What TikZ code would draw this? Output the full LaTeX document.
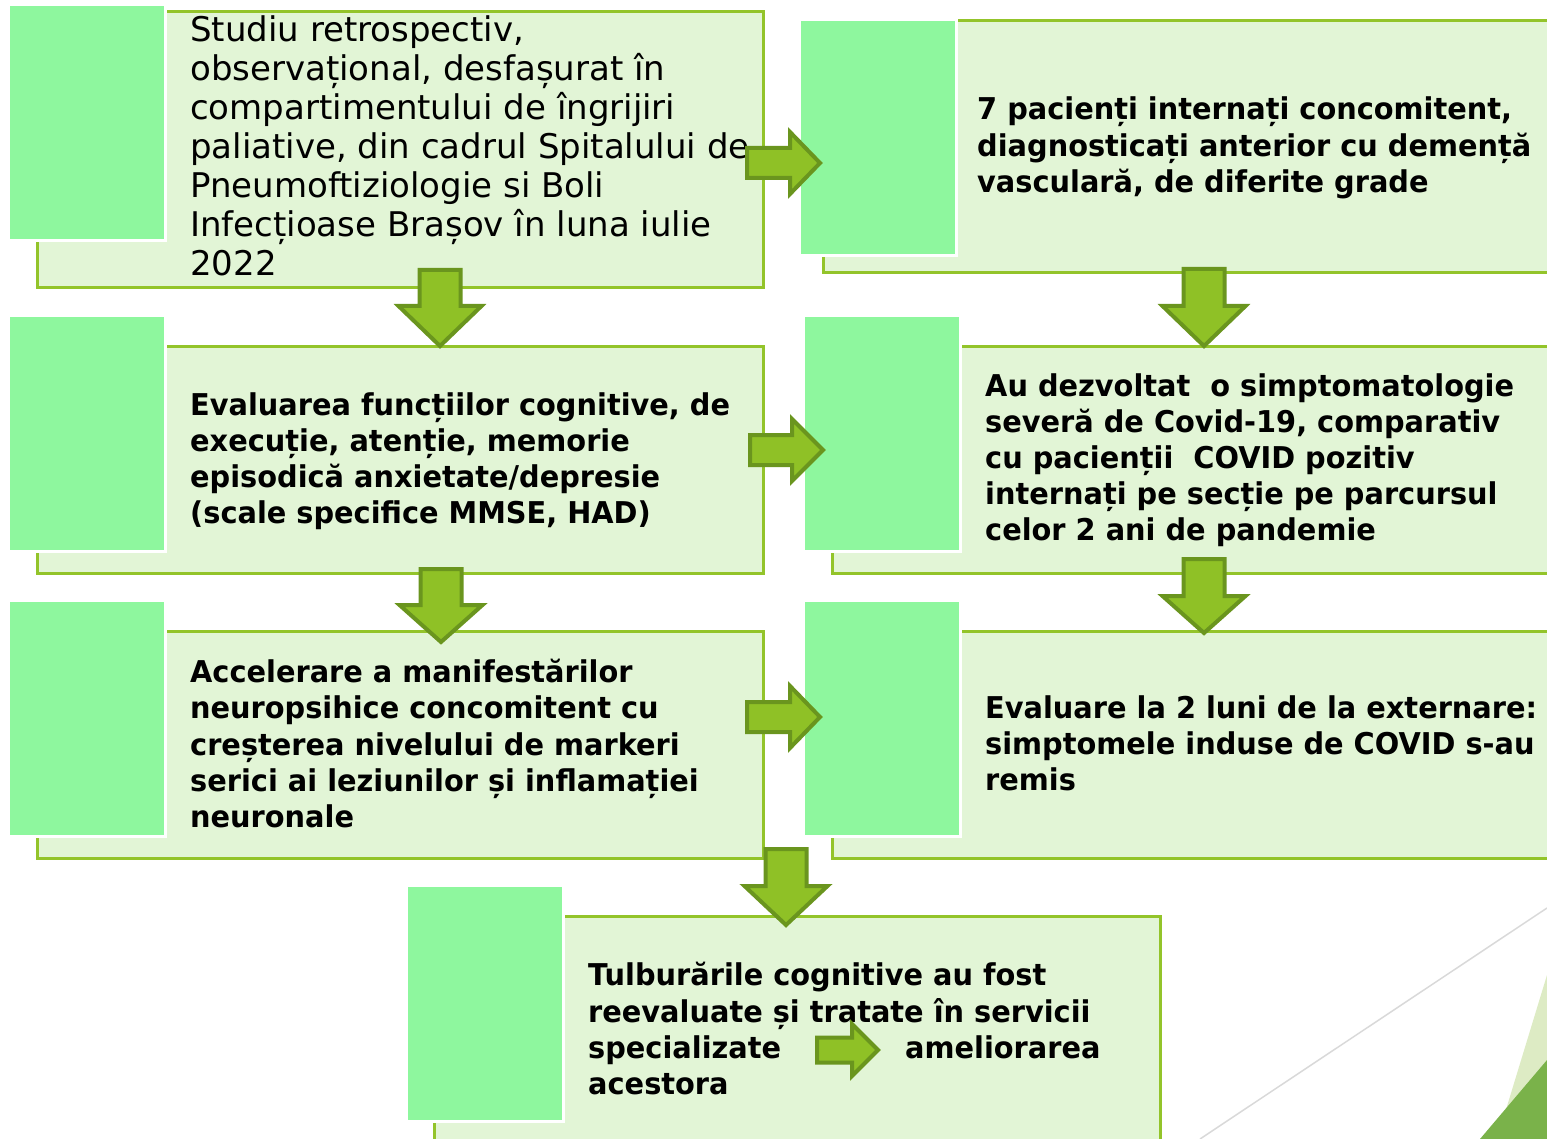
\documentclass[tikz,border=0pt]{standalone}
\usepackage{fontspec}
\newfontfamily\regf[FakeStretch=1.0]{DejaVu Sans}
\newfontfamily\bldf[FakeStretch=0.96]{DejaVu Sans}
\definecolor{sqfill}{HTML}{8EF79E}
\definecolor{boxfill}{HTML}{E2F5D6}
\definecolor{boxline}{HTML}{93C42A}
\definecolor{arrfill}{HTML}{8FC126}
\definecolor{arrline}{HTML}{6A951E}
\definecolor{decoline}{HTML}{D9D9D9}
\definecolor{decolight}{HTML}{DDEBC4}
\definecolor{decodark}{HTML}{7AB24A}
\tikzset{
  lightbox/.style={fill=boxfill,draw=boxline,line width=3pt},
  sqbox/.style={fill=sqfill,draw=white,line width=3pt},
  blockarr/.style={fill=arrfill,draw=arrline,line width=4pt,line join=miter},
  reg/.style={anchor=base west,inner sep=0pt,font=\regf\fontsize{34}{39}\selectfont},
  bld/.style={anchor=base west,inner sep=0pt,font=\bldf\bfseries\fontsize{30}{36}\selectfont},
}
% right arrow: x0, xs, xt, yc, half shaft, half head
\newcommand{\rarr}[6]{\draw[blockarr] (#1,#4-#5) -- (#2,#4-#5) -- (#2,#4-#6) -- (#3,#4) -- (#2,#4+#6) -- (#2,#4+#5) -- (#1,#4+#5) -- cycle;}
% down arrow: xc, y0, ys, yt, half shaft, half head
\newcommand{\darr}[6]{\draw[blockarr] (#1-#5,#2) -- (#1+#5,#2) -- (#1+#5,#3) -- (#1+#6,#3) -- (#1,#4) -- (#1-#6,#3) -- (#1-#5,#3) -- cycle;}
\begin{document}
\begin{tikzpicture}[x=1pt,y=-1pt]
\useasboundingbox (0,0) rectangle (1547,1139);
\clip (0,0) rectangle (1547,1139);
% decoration
\fill[decolight] (1547,975) -- (1497,1139) -- (1547,1139) -- cycle;
\fill[decodark] (1547,1060) -- (1480,1139) -- (1547,1139) -- cycle;
\draw[decoline,line width=1.5pt] (1547,908) -- (1200,1139);
% boxes
\node[lightbox,anchor=north west,minimum width=726pt,minimum height=276pt] (b1) at (36,10) {};
\node[lightbox,anchor=north west,minimum width=740pt,minimum height=252pt] (b2) at (822,19) {};
\node[lightbox,anchor=north west,minimum width=726pt,minimum height=227pt] (b3) at (36,345) {};
\node[lightbox,anchor=north west,minimum width=740pt,minimum height=227pt] (b4) at (831,345) {};
\node[lightbox,anchor=north west,minimum width=726pt,minimum height=227pt] (b5) at (36,630) {};
\node[lightbox,anchor=north west,minimum width=740pt,minimum height=227pt] (b6) at (831,630) {};
\node[lightbox,anchor=north west,minimum width=726pt,minimum height=240pt] (b7) at (433,915) {};
% squares
\node[sqbox,anchor=north west,minimum width=157pt,minimum height=236pt] (s1) at (7,3) {};
\node[sqbox,anchor=north west,minimum width=157pt,minimum height=236pt] (s2) at (798,18) {};
\node[sqbox,anchor=north west,minimum width=157pt,minimum height=236pt] (s3) at (7,314) {};
\node[sqbox,anchor=north west,minimum width=157pt,minimum height=236pt] (s4) at (802,314) {};
\node[sqbox,anchor=north west,minimum width=157pt,minimum height=236pt] (s5) at (7,599) {};
\node[sqbox,anchor=north west,minimum width=157pt,minimum height=236pt] (s6) at (802,599) {};
\node[sqbox,anchor=north west,minimum width=157pt,minimum height=236pt] (s7) at (405,884) {};
% texts
\node[reg] (t11) at (190,42) {Studiu retrospectiv,};
\node[reg] (t12) at (190,81) {observațional, desfașurat în};
\node[reg] (t13) at (190,120) {compartimentului de îngrijiri};
\node[reg] (t14) at (190,159) {paliative, din cadrul Spitalului de};
\node[reg] (t15) at (190,198) {Pneumoftiziologie si Boli};
\node[reg] (t16) at (190,237) {Infecțioase Brașov în luna iulie};
\node[reg] (t17) at (190,276) {2022};
\node[bld] (t21) at (977,120) {7 pacienți internați concomitent,};
\node[bld] (t22) at (977,156.5) {diagnosticați anterior cu demență};
\node[bld] (t23) at (977,193) {vasculară, de diferite grade};
\node[bld] (t31) at (190,415) {Evaluarea funcțiilor cognitive, de};
\node[bld] (t32) at (190,451) {execuție, atenție, memorie};
\node[bld] (t33) at (190,487) {episodică anxietate/depresie};
\node[bld] (t34) at (190,523) {(scale specifice MMSE, HAD)};
\node[bld] (t41) at (985,396) {Au dezvoltat \ o simptomatologie};
\node[bld] (t42) at (985,432) {severă de Covid-19, comparativ};
\node[bld] (t43) at (985,468) {cu pacienții \ COVID pozitiv};
\node[bld] (t44) at (985,504) {internați pe secție pe parcursul};
\node[bld] (t45) at (985,540) {celor 2 ani de pandemie};
\node[bld] (t51) at (190,682) {Accelerare a manifestărilor};
\node[bld] (t52) at (190,718) {neuropsihice concomitent cu};
\node[bld] (t53) at (190,755) {creșterea nivelului de markeri};
\node[bld] (t54) at (190,791) {serici ai leziunilor și inflamației};
\node[bld] (t55) at (190,827) {neuronale};
\node[bld] (t61) at (985,718) {Evaluare la 2 luni de la externare:};
\node[bld] (t62) at (985,754) {simptomele induse de COVID s-au};
\node[bld] (t63) at (985,790) {remis};
\node[bld] (t71) at (588,985) {Tulburările cognitive au fost};
\node[bld] (t72) at (588,1022) {reevaluate și tratate în servicii};
\node[bld] (t73) at (588,1058) {specializate};
\node[bld] (t74) at (905,1058) {ameliorarea};
\node[bld] (t75) at (588,1094) {acestora};
% arrows
\rarr{747}{790}{820}{163}{15}{31}
\rarr{750}{792}{823}{450}{15}{31}
\rarr{747}{790}{820}{717}{15}{31}
\rarr{817}{852}{878}{1050}{12.5}{26}
\darr{440}{270}{306}{346}{20.5}{41.5}
\darr{1204}{269}{306}{346}{20.5}{41.5}
\darr{441}{569}{605}{642}{20.5}{41.5}
\darr{1204}{559}{596}{633}{20.5}{41.5}
\darr{786}{849}{886}{925}{20.5}{41.5}
\end{tikzpicture}
\end{document}
